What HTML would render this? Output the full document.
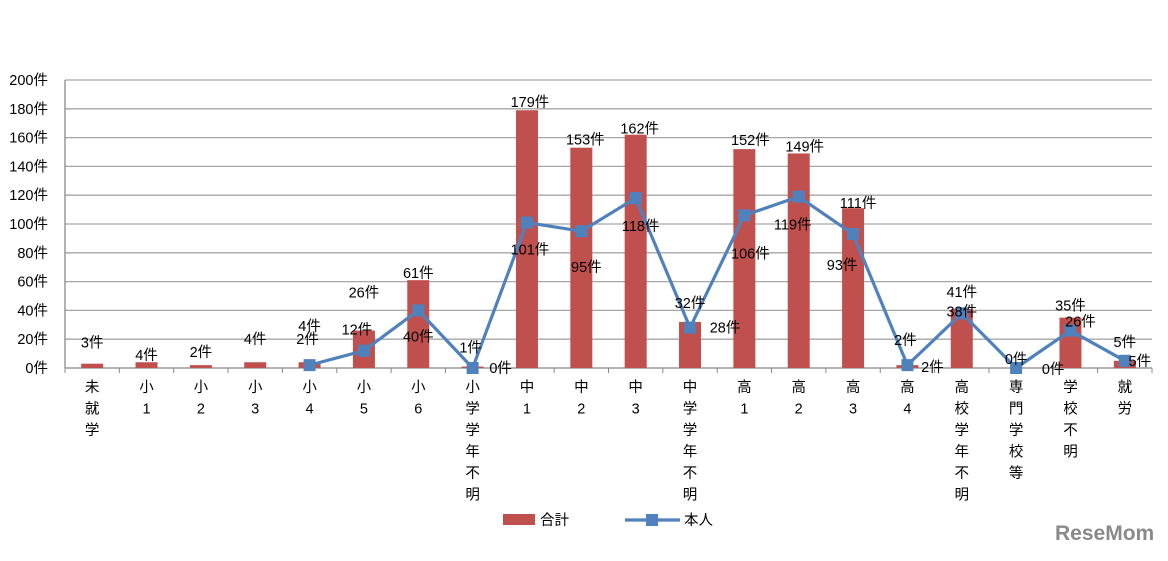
<!DOCTYPE html>
<html><head><meta charset="utf-8">
<style>
body{margin:0;background:#fff;width:1168px;height:556px;overflow:hidden;font-family:"Liberation Sans","Noto Sans CJK JP",sans-serif;}
svg text{font-family:"Liberation Sans","Noto Sans CJK JP",sans-serif;}
</style></head><body>
<svg id="chart" width="1168" height="556" xmlns="http://www.w3.org/2000/svg"></svg>
<script>
const categories=["未就学","小1","小2","小3","小4","小5","小6","小学学年不明","中1","中2","中3","中学学年不明","高1","高2","高3","高4","高校学年不明","専門学校等","学校不明","就労"];
const totalValues=[3,4,2,4,4,26,61,1,179,153,162,32,152,149,111,2,41,0,35,5];
const personValues=[null,null,null,null,2,12,40,0,101,95,118,28,106,119,93,2,38,0,26,5];
const yTicks=[0,20,40,60,80,100,120,140,160,180,200];
// label offsets (layout only)
const totDx=[0,0,0,0,0,0,0,-2,3,4,4,0,6,6,5,-2,0,0,0,0];
const totDy=[-21,-7,-13,-23,-36,-38,-7,-19,-8,-8,-6,-19,-9,-7,-5,-25,-17,-9,-12,-19];
const perDx=[0,0,0,0,-2,-7,0,28,3,5,5,35,6,-6,-11,25,0,37,10,15];
const perDy=[0,0,0,0,-26,-21,26,0,27,36,28,0,38,28,31,2,-2,1,-9,0];

const svg=document.getElementById('chart');
const NS='http://www.w3.org/2000/svg';
const L=65,R=1152,T=80,B=368,MAX=200;
const bw=(R-L)/categories.length;
const x=i=>L+bw*(i+0.5);
const y=v=>B-(v/MAX)*(B-T);
function mk(tag,attrs,parent){const e=document.createElementNS(NS,tag);for(const k in attrs)e.setAttribute(k,attrs[k]);(parent||svg).appendChild(e);return e;}

yTicks.forEach(t=>{
  const g=mk('line',{x1:L,x2:R,y1:y(t),y2:y(t),stroke:t===0?'#888':'#a6a6a6','stroke-width':1.3});
  
  
  const tx=mk('text',{x:48,y:y(t)+5,'font-size':14.5,'text-anchor':'end',fill:'#000'});
  tx.textContent=t;
  const s=mk('tspan',{},tx);s.textContent='件';
  
  
});
const ax=mk('line',{x1:L,x2:L,y1:T,y2:B,stroke:'#888','stroke-width':1.3});


for(let i=0;i<=categories.length;i++){
  const tk=mk('line',{x1:L+bw*i,x2:L+bw*i,y1:B,y2:B+5,stroke:'#888'});
  
  
}
categories.forEach((c,i)=>{
  const b=mk('rect',{x:x(i)-11,y:y(totalValues[i]),width:22,height:B-y(totalValues[i]),fill:'#C0504D'});
  
  
  const t=mk('text',{'font-size':14.5,'text-anchor':'middle'});
  const chars=[...c];
  chars.forEach((ch,k)=>{const s=mk('tspan',{x:x(i),y:392+k*21.5},t);s.textContent=ch;});
  
  
});
let d='';
personValues.forEach((v,i)=>{if(v===null)return;d+=(d?'L':'M')+x(i)+' '+y(v);});
const ln=mk('path',{d:d,fill:'none',stroke:'#4F81BD','stroke-width':3.2,'stroke-linejoin':'round'});


personValues.forEach((v,i)=>{if(v===null)return;
  const m=mk('rect',{x:x(i)-6,y:y(v)-6,width:12,height:12,fill:'#4F81BD'});
  
  
});
totalValues.forEach((v,i)=>{
  const t=mk('text',{x:x(i)+totDx[i],y:y(v)+totDy[i]+5,'font-size':14.5,'text-anchor':'middle'});
  t.textContent=v+'件';
  
  
});
personValues.forEach((v,i)=>{if(v===null)return;
  const t=mk('text',{x:x(i)+perDx[i],y:y(v)+perDy[i]+5,'font-size':14.5,'text-anchor':'middle'});
  t.textContent=v+'件';
  
  
});
// legend
const lg=mk('g',{});


const r1=mk('rect',{x:503,y:514,width:32,height:11,fill:'#C0504D'},lg);


const t1=mk('text',{x:540,y:525,'font-size':14.5},lg);t1.textContent='合計';


const l2=mk('line',{x1:625,x2:680,y1:520,y2:520,stroke:'#4F81BD','stroke-width':3.2},lg);


mk('rect',{x:646,y:514,width:12,height:12,fill:'#4F81BD'},lg);
const t2=mk('text',{x:684,y:525,'font-size':14.5},lg);t2.textContent='本人';


const wm=mk('text',{x:1055,y:540,'font-size':21,'font-weight':'bold',fill:'#8a8a8a'});
wm.textContent='ReseMom';


</script>
</body></html>
